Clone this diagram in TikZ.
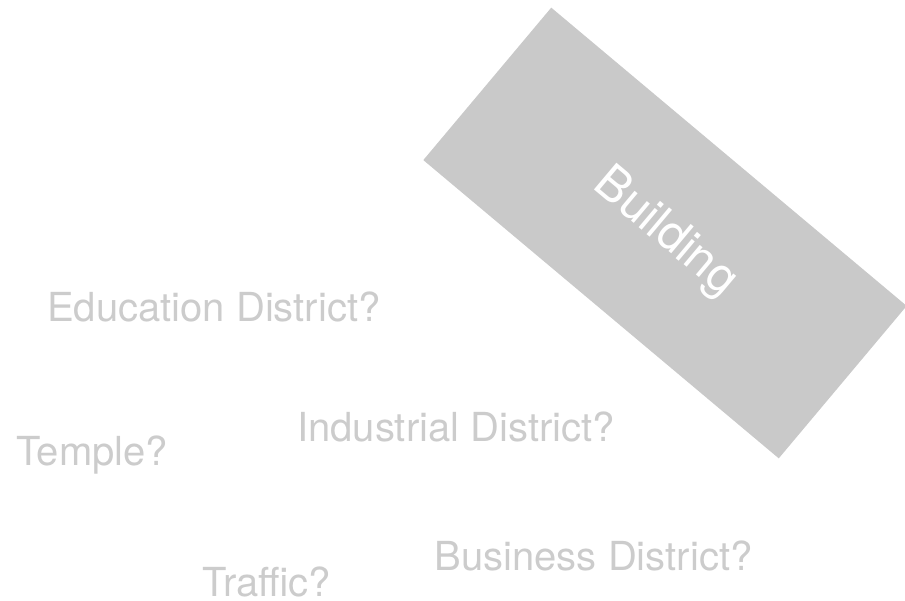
\documentclass[tikz,border=0pt]{standalone}
\usepackage{fontspec}
\setmainfont{TeX Gyre Heros}
\definecolor{lotgray}{RGB}{201,201,201}
\definecolor{labelgray}{RGB}{204,204,204}
\begin{document}
\begin{tikzpicture}[x=1pt, y=-1pt,
  district/.style={anchor=base west, inner sep=0pt, text=labelgray, font=\fontsize{40}{48}\selectfont},
  lot/.style={fill=lotgray, text=white, minimum width=464pt, minimum height=199pt, inner sep=0pt, rotate=-40, font=\fontsize{48}{56}\selectfont}]
\useasboundingbox (0,0) rectangle (905,601);
\node [lot] (building) at (665,233) {Building};
\node [district] (education) at (47,321.5) {Education District?};
\node [district] (temple) at (16,465) {Temple?};
\node [district] (industrial) at (297,442) {Industrial District?};
\node [district] (business) at (434.5,570) {Business District?};
\node [district] (traffic) at (202,596) {Traffic?};
\end{tikzpicture}
\end{document}
